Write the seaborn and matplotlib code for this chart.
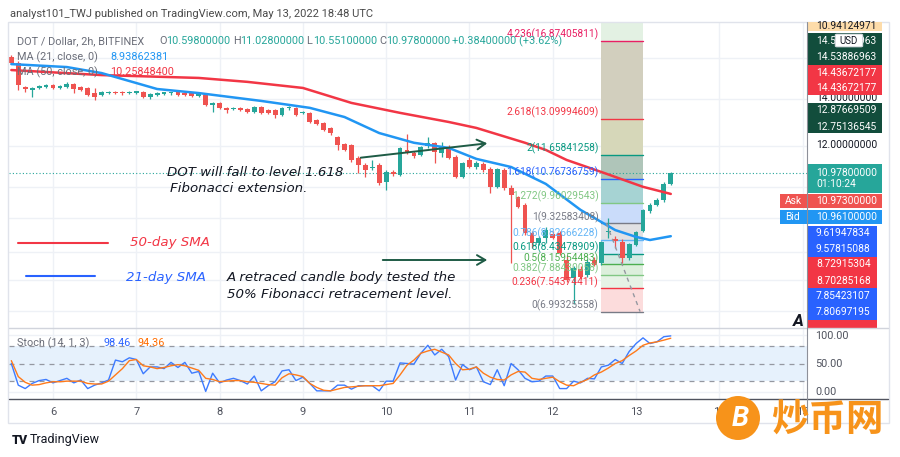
import numpy as np
import pandas as pd
import matplotlib
matplotlib.use("Agg")
import matplotlib.pyplot as plt
import seaborn as sns
from matplotlib.patches import Rectangle, FancyBboxPatch, Ellipse, FancyArrowPatch
from matplotlib.lines import Line2D

# ---------------- data ----------------
first_bar_day = 5.5          # May 5, 12:00 (2h bars)
bars_per_day = 12

opens = [16.03, 15.71, 14.53, 14.39, 14.49, 14.53, 14.63, 14.49, 14.53, 14.68,
         14.53, 14.49, 14.25, 14.16, 14.25, 14.30, 14.28, 14.25, 14.27, 14.30,
         14.07, 14.16, 14.23, 14.24, 14.30, 14.25, 14.25, 14.12, 14.16, 13.71,
         13.80, 13.58, 13.54, 13.58, 13.54, 13.40, 13.62, 13.49, 13.49, 13.27,
         13.56, 13.58, 13.34, 13.36, 13.05, 12.92, 12.72, 12.35, 12.08, 12.04,
         11.54, 11.28, 11.17, 11.28, 10.67, 11.02, 10.92, 11.84, 11.72, 11.65,
         12.00, 12.12, 11.72, 11.96, 11.57, 10.85, 11.46, 11.20, 11.31, 11.13,
         10.50, 11.09, 10.46, 10.16, 9.90, 9.03, 8.74, 8.89, 9.00, 9.03,
         8.27, 7.81, 8.04, 7.88, 8.27, 8.19, 9.05, 8.87, 8.78, 8.33,
         8.69, 9.09, 9.71, 9.90, 10.07, 10.598]
highs = [16.13, 15.80, 14.60, 14.53, 14.63, 14.70, 14.68, 14.63, 14.75, 14.72,
         14.58, 14.53, 14.49, 14.35, 14.35, 14.35, 14.35, 14.33, 14.35, 14.33,
         14.25, 14.28, 14.30, 14.30, 14.35, 14.30, 14.28, 14.22, 14.20, 13.85,
         13.85, 13.62, 13.62, 13.62, 13.58, 13.67, 13.67, 13.54, 13.54, 13.62,
         13.65, 13.62, 13.45, 13.40, 13.10, 12.97, 12.76, 12.40, 12.12, 12.08,
         11.60, 11.35, 11.46, 11.35, 11.09, 11.09, 11.96, 12.47, 11.80, 12.00,
         12.35, 12.16, 12.16, 12.04, 11.65, 11.40, 11.57, 11.42, 11.40, 11.20,
         11.17, 11.15, 10.55, 10.20, 9.95, 9.08, 8.94, 9.20, 9.10, 9.10,
         8.40, 8.10, 8.10, 8.30, 8.35, 8.80, 9.50, 8.95, 8.85, 8.75,
         9.10, 9.78, 9.95, 10.12, 10.65, 11.028]
lows = [15.68, 14.39, 14.30, 14.07, 14.44, 14.49, 14.44, 14.44, 14.49, 14.25,
        14.35, 14.10, 13.93, 14.10, 14.20, 14.20, 14.16, 14.20, 14.22, 14.03,
        13.98, 14.12, 14.18, 14.18, 14.12, 14.10, 14.07, 14.07, 13.65, 13.40,
        13.54, 13.36, 13.49, 13.45, 13.36, 13.36, 13.31, 13.31, 13.14, 13.22,
        13.50, 13.22, 13.30, 12.92, 12.84, 12.60, 12.45, 11.84, 11.80, 11.40,
        10.98, 10.85, 11.09, 10.57, 10.39, 10.88, 10.88, 11.68, 11.55, 11.60,
        11.90, 11.35, 11.57, 11.50, 10.80, 10.82, 11.15, 11.13, 11.02, 10.29,
        10.45, 10.40, 8.19, 9.80, 8.98, 8.60, 8.70, 8.74, 8.85, 8.40,
        7.70, 7.18, 7.78, 7.84, 8.10, 8.15, 8.90, 8.60, 8.20, 8.28,
        8.65, 9.05, 9.65, 9.85, 10.00, 10.551]
closes = [15.71, 14.63, 14.44, 14.49, 14.58, 14.63, 14.49, 14.58, 14.68, 14.44,
          14.39, 14.16, 14.07, 14.30, 14.30, 14.25, 14.25, 14.30, 14.30, 14.07,
          14.20, 14.25, 14.26, 14.27, 14.16, 14.16, 14.12, 14.20, 13.71, 13.80,
          13.58, 13.49, 13.58, 13.49, 13.40, 13.62, 13.36, 13.36, 13.27, 13.58,
          13.60, 13.27, 13.37, 12.97, 12.88, 12.64, 12.51, 12.04, 11.84, 11.46,
          11.28, 11.09, 11.20, 10.64, 11.02, 10.95, 11.92, 11.72, 11.61, 11.96,
          12.12, 11.76, 11.96, 11.54, 10.85, 11.35, 11.20, 11.35, 11.09, 10.50,
          11.13, 10.46, 10.23, 9.83, 9.03, 8.74, 8.89, 9.12, 8.90, 8.46,
          7.75, 8.06, 7.83, 8.22, 8.14, 8.76, 9.10, 8.80, 8.33, 8.72,
          9.06, 9.74, 9.90, 10.07, 10.60, 10.978]

ma21_bar = [0, 8, 13, 21, 27, 36, 43, 48, 53, 58, 63, 67, 72, 77, 82, 87, 90, 92, 95]
ma21_val = [15.66, 15.51, 15.21, 14.44, 14.25, 13.89, 13.58, 13.18, 12.51, 12.12,
            11.92, 11.50, 11.20, 10.60, 9.74, 9.12, 8.92, 8.83, 8.94]
ma50_bar = [0, 13, 27, 34, 42, 49, 56, 63, 67, 74, 77, 80, 85, 91, 95]
ma50_val = [15.36, 15.11, 14.97, 14.78, 14.49, 13.80, 13.36, 12.97, 12.72, 12.12,
            11.84, 11.46, 11.02, 10.50, 10.26]

stoch_k = [50, 12, 6, 15, 20, 22, 16, 20, 24, 16, 21, 6, 12, 16, 21, 56, 53, 60, 57, 32,
           44, 44, 41, 52, 43, 52, 33, 36, 1, 33, 16, 21, 24, 20, 14, 28, 2, 11, 18, 37,
           39, 20, 26, 15, 2, 2, 2, 12, 12, 5, 11, 11, 11, 2, 19, 19, 51, 50, 49, 68,
           82, 65, 75, 62, 21, 48, 39, 44, 18, 13, 39, 11, 50, 39, 24, 18, 19, 28, 28, 6,
           6, 19, 16, 24, 23, 44, 47, 57, 50, 71, 85, 95, 85, 88, 97, 98.46]
stoch_d = [55, 27, 17, 12, 13, 16, 18, 18, 19, 19, 19, 15, 14, 14, 19, 30, 41, 55, 57, 46,
           44, 41, 43, 46, 48, 46, 42, 38, 24, 22, 18, 19, 20, 20, 18, 17, 15, 13, 12, 25,
           32, 30, 27, 15, 8, 3, 2, 5, 8, 9, 10, 11, 11, 11, 13, 15, 30, 47, 56, 68,
           72, 75, 70, 65, 50, 39, 40, 44, 33, 26, 22, 21, 30, 36, 35, 24, 22, 24, 26, 18,
           12, 11, 17, 22, 30, 35, 42, 50, 55, 64, 72, 82, 86, 88, 91, 94.36]

fib_ratios = [0, 0.236, 0.382, 0.5, 0.618, 0.786, 1, 1.272, 1.618, 2, 2.618, 4.236]
fib_prices = [6.99325558, 7.54374411, 7.88430058, 8.15954483, 8.43478909, 8.82666228,
              9.32583408, 9.96029543, 10.76736759, 11.65841258, 13.09994609, 16.87405811]
fib_start_bar = 85
fib_end_bar = 91

day_pos = [6, 7, 8, 9, 10, 11, 12, 13, 14, 15]
day_labels = ["6", "7", "8", "9", "10", "11", "12", "13", "14", "15"]
grid_prices = [16, 14, 12, 10.5, 9.5, 8.5, 7.75, 7.0]

# ---------------- style ----------------
sns.set_style("white")
plt.rcParams['font.family'] = ['Roboto', 'DejaVu Sans']

GREEN = '#26a69a'
RED = '#ef5350'
MA21_C = '#2196f3'
MA50_C = '#f23645'
GRID = '#eef1f6'
fib_line_colors = ['#787b86', '#f23645', '#81c784', '#4caf50', '#089981', '#64b5f6',
                   '#787b86', '#81c784', '#2962ff', '#089981', '#f23645', '#e91e63']
fib_band_colors = ['#fcdcdc', '#e6f3e6', '#dcefdc', '#d3ebe4', '#d9eafb', '#e1e1e3',
                   '#cadcfa', '#a6d3d3', '#afc5b9', '#d6d7b9', '#d2cfbe', '#e3f1e3']

W, H = 900, 457
def fx(x): return x / W
def fy(y): return 1 - y / H

fig = plt.figure(figsize=(9, 4.57), dpi=100)
fig.patch.set_facecolor('white')

ax = fig.add_axes([fx(9), fy(328), (807 - 9) / W, (328 - 22) / H])
ax2 = fig.add_axes([fx(9), fy(399), (807 - 9) / W, (399 - 328) / H])

XMIN, XMAX = 5.472, 15.052
t = first_bar_day + np.arange(len(opens)) / bars_per_day
o = np.array(opens); h = np.array(highs); l = np.array(lows); c = np.array(closes)

# ---------------- main panel ----------------
ax.set_yscale('log')
ax.set_xlim(XMIN, XMAX)
ax.set_ylim(6.6295, 17.962)
ax.set_facecolor('white')
for s in ax.spines.values():
    s.set_visible(False)
for d in day_pos:
    ax.axvline(d, color=GRID, lw=1, zorder=0)
for gp in grid_prices:
    ax.axhline(gp, color=GRID, lw=1, zorder=0)

# Fibonacci bands and levels
fx0 = first_bar_day + fib_start_bar / bars_per_day
fx1 = first_bar_day + fib_end_bar / bars_per_day
band_edges = list(fib_prices) + [ax.get_ylim()[1]]
for i in range(len(band_edges) - 1):
    ax.fill_between([fx0, fx1], band_edges[i], band_edges[i + 1],
                    color=fib_band_colors[i], lw=0, zorder=1)
for r, p, col in zip(fib_ratios, fib_prices, fib_line_colors):
    ax.plot([fx0, fx1], [p, p], color=col, lw=1, zorder=1.5)
    ax.annotate(f"{r:g}({p:.8f})", xy=(fx0, p), xytext=(-2, 0.5),
                textcoords='offset points', ha='right', va='bottom',
                fontsize=7.3, color=col, zorder=6)
ax.plot([fx0 + 0.06, fx1 - 0.035], [fib_prices[6], fib_prices[0]],
        color='#9598a1', lw=1, ls=(0, (3, 3)), zorder=6)

# current price line
ax.axhline(closes[-1], color=GREEN, lw=0.8, ls=(0, (1, 2)), zorder=2)

# moving averages
df21 = pd.DataFrame({'t': first_bar_day + np.array(ma21_bar) / bars_per_day, 'v': ma21_val})
df50 = pd.DataFrame({'t': first_bar_day + np.array(ma50_bar) / bars_per_day, 'v': ma50_val})
sns.lineplot(data=df50, x='t', y='v', ax=ax, color=MA50_C, lw=1.8, sort=False, zorder=5)
sns.lineplot(data=df21, x='t', y='v', ax=ax, color=MA21_C, lw=1.8, sort=False, zorder=5)
ax.set_xlabel(''); ax.set_ylabel('')

# candles
up = c >= o
cols = np.where(up, GREEN, RED)
ax.vlines(t, l, h, colors=cols, lw=0.9, zorder=3)
body_lo = np.minimum(o, c)
body_h = np.maximum(np.abs(c - o), body_lo * 0.004)
ax.bar(t, body_h, bottom=body_lo, width=0.058, color=cols, lw=0, zorder=4)
ax.set_xticks([]); ax.set_yticks([]); ax.set_yticks([], minor=True)

# ---------------- stochastic panel ----------------
ax2.set_xlim(XMIN, XMAX)
ax2.set_ylim(-12.3, 112.3)
ax2.set_facecolor('white')
for s in ax2.spines.values():
    s.set_visible(False)
for d in day_pos:
    ax2.axvline(d, color=GRID, lw=1, zorder=0)
for gv in [0, 100]:
    ax2.axhline(gv, color=GRID, lw=1, zorder=0)
ax2.axhspan(20, 80, color='#e6f1fc', lw=0, zorder=0.5)
for lv in [20, 50, 80]:
    ax2.axhline(lv, color='#9598a1', lw=0.9, ls=(0, (4, 4)), zorder=1)
dfs = pd.DataFrame({'t': t, 'k': stoch_k, 'd': stoch_d})
sns.lineplot(data=dfs, x='t', y='k', ax=ax2, color='#3d7bff', lw=1.0, zorder=3)
sns.lineplot(data=dfs, x='t', y='d', ax=ax2, color='#ff7a1a', lw=1.0, zorder=3)
ax2.set_xlabel(''); ax2.set_ylabel('')
ax2.set_yticks([])
ax2.set_xticks(day_pos, day_labels)
ax2.tick_params(axis='x', length=0, pad=6, labelsize=8, labelcolor='#50535e')

# ---------------- frame lines ----------------
def hline(x0, x1, y, color, lw=1):
    fig.add_artist(Line2D([fx(x0), fx(x1)], [fy(y), fy(y)], color=color, lw=lw))
def vline(x, y0, y1, color, lw=1):
    fig.add_artist(Line2D([fx(x), fx(x)], [fy(y0), fy(y1)], color=color, lw=lw))

fig.add_artist(Rectangle((fx(8), fy(423)), (889 - 8) / W, (423 - 22) / H,
                         fill=False, ec='#e0e3eb', lw=1))
hline(9, 888, 328, '#d1d4dc')
hline(9, 888, 399, '#50535e', 1.0)
vline(807, 22, 423, '#8d9099', 0.8)

# ---------------- header ----------------
fig.text(fx(10), fy(14), "analyst101_TWJ published on TradingView.com, May 13, 2022 18:48 UTC",
         fontsize=8.0, color='#4a4a4a', va='center')
hdr_y = fy(41)
fig.text(fx(17), hdr_y, "DOT / Dollar, 2h, BITFINEX", fontsize=7.8, color='#6a6d78', va='center')
for xx, txt, col in [(159, "O", '#6a6d78'), (166, "10.59800000", GREEN),
                     (233, "H", '#6a6d78'), (240, "11.02800000", GREEN),
                     (306, "L", '#6a6d78'), (313, "10.55100000", GREEN),
                     (379, "C", '#6a6d78'), (386, "10.97800000", GREEN),
                     (452, "+0.38400000 (+3.62%)", GREEN)]:
    fig.text(fx(xx), hdr_y, txt, fontsize=7.8, color=col, va='center')
fig.text(fx(17), fy(57), "MA (21, close, 0)", fontsize=7.8, color='#6a6d78', va='center')
fig.text(fx(110), fy(57), "8.93862381", fontsize=7.8, color=MA21_C, va='center')
fig.text(fx(17), fy(72), "MA (50, close, 0)", fontsize=7.8, color='#6a6d78', va='center')
fig.text(fx(110), fy(72), "10.25848400", fontsize=7.8, color=MA50_C, va='center')

fig.text(fx(17), fy(343), "Stoch (14, 1, 3)", fontsize=7.8, color='#6a6d78', va='center')
fig.text(fx(103), fy(343), "98.46", fontsize=7.8, color='#2962ff', va='center')
fig.text(fx(137), fy(343), "94.36", fontsize=7.8, color='#ff6d00', va='center')

# ---------------- annotations ----------------
ann_kw = dict(fontsize=9.6, style='oblique', family=['DejaVu Sans'], va='center')
fig.text(fx(167), fy(173), "DOT will fall to level 1.618", color='#131722', **ann_kw)
fig.text(fx(170), fy(189), "Fibonacci extension.", color='#131722', **ann_kw)
fig.text(fx(227), fy(278), "A retraced candle body tested the", color='#131722', **ann_kw)
fig.text(fx(227), fy(294), "50% Fibonacci retracement level.", color='#131722', **ann_kw)
fig.text(fx(130), fy(243), "50-day SMA", color=MA50_C, **ann_kw)
fig.text(fx(126), fy(277), "21-day SMA", color='#2962ff', **ann_kw)
hline(18, 108, 243, MA50_C, 1.5)
hline(26, 95, 276, '#2962ff', 1.5)

arrow_c = '#1e5b45'
for (x0, y0, x1, y1) in [(358, 158, 490, 143), (380, 260, 490, 260)]:
    fig.add_artist(FancyArrowPatch(
        (fx(x0), fy(y0)), (fx(x1), fy(y1)), transform=fig.transFigure,
        arrowstyle='->,head_length=0.6,head_width=0.35', color=arrow_c, lw=1.4,
        mutation_scale=10))

# ---------------- right price scale ----------------
def box(x0, y0, x1, y1, col, z=1):
    fig.add_artist(Rectangle((fx(x0), fy(y1)), (x1 - x0) / W, (y1 - y0) / H,
                             fc=col, ec='none', lw=0, zorder=z))
def label(x, y, txt, col, size=7.4, **kw):
    fig.text(fx(x), fy(y), txt, fontsize=size, color=col, va='center', **kw)

box(808, 22, 882, 31, '#fddcaa')
label(816, 26, "10.94124971", '#131722')
box(808, 33, 882, 65, '#124d3c')
label(816, 41, "14.53886963", 'white'); label(816, 57, "14.53886963", 'white')
label(816, 98, "14.00000000", '#131722')
box(808, 65, 882, 95, '#f23645', z=4)
label(816, 73, "14.43672177", 'white', zorder=5); label(816, 88, "14.43672177", 'white', zorder=5)
box(808, 103, 882, 133, '#124d3c')
label(816, 110, "12.87669509", 'white'); label(816, 127, "12.75136545", 'white')
label(816, 145, "12.00000000", '#131722')
box(808, 164, 882, 193, GREEN)
label(816, 173, "10.97800000", 'white'); label(816, 184, "01:10:24", 'white')
box(780, 194, 882, 208, RED)
label(785, 201, "Ask", 'white'); label(816, 201, "10.97300000", 'white')
box(780, 210, 882, 224, '#2196f3')
label(785, 217, "Bid", 'white'); label(816, 217, "10.96100000", 'white')
box(808, 226, 877, 257, '#2962ff')
label(816, 233, "9.61947834", 'white'); label(816, 249, "9.57815088", 'white')
box(808, 257, 877, 288, '#f23645')
label(816, 264, "8.72915304", 'white'); label(816, 281, "8.70285168", 'white')
box(808, 288, 877, 320, '#2962ff')
label(816, 296, "7.85423107", 'white'); label(816, 312, "7.80697195", 'white')
box(808, 320, 877, 328, '#f23645')
fig.add_artist(FancyBboxPatch((fx(837), fy(46)), 24 / W, 11 / H,
                              boxstyle='round,pad=0.002', fc='white', ec='#d1d4dc', lw=0.6,
                              zorder=6))
label(849, 40.5, "USD", '#131722', size=7, ha='center', zorder=7)
label(798, 322, "A", '#131722', size=12, ha='center', weight='bold', style='italic')

label(815, 336, "100.00", '#50535e', size=7.8)
label(815, 364, "50.00", '#50535e', size=7.8)
label(815, 392, "0.00", '#50535e', size=7.8)

# ---------------- footer / watermark ----------------
label(12, 440, "TV", '#131722', size=9, weight='heavy')
label(30, 440, "TradingView", '#131722', size=9)
fig.add_artist(Ellipse((fx(738), fy(418)), 44 / W, 44 / H,
                       fc='#f7931a', ec='none', zorder=20))
fig.text(fx(740), fy(418), "B", fontsize=20, color='white', weight='bold', style='italic',
         ha='center', va='center', zorder=21)
fig.text(fx(827), fy(419), "炒币网", fontsize=27, color='#f7931a', weight='bold',
         family=['Noto Sans CJK SC', 'DejaVu Sans'], ha='center', va='center', zorder=21)

fig.savefig("out.png", dpi=100, facecolor='white')
